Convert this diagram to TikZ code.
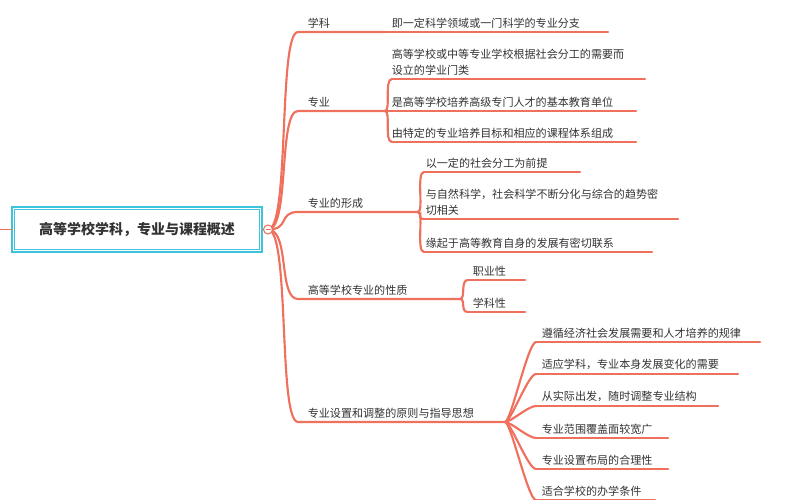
\documentclass[tikz,border=0pt]{standalone}
\usepackage{fontspec}
\setmainfont{Noto Sans CJK SC}
\definecolor{branch}{HTML}{F0705E}
\definecolor{rootline}{HTML}{3EC3DD}
\definecolor{ink}{HTML}{333333}
\tikzset{every picture/.style={line width=0.75pt}}
\tikzset{
  twig/.style={draw=branch,line width=1.6pt,line cap=round},
  leaf/.style={anchor=south west,inner sep=1pt,text=ink,font=\fontsize{8.3}{11.5}\selectfont,align=left},
}
% curve from a parent end to a child start
\newcommand{\bend}[2]{\draw[twig] (#1) .. controls ($(#1)+(6,0)$) and ($(#2)+(-8,0)$) .. (#2);}
\usetikzlibrary{calc}
\begin{document}
\begin{tikzpicture}[x=0.75pt,y=0.75pt,yscale=-1,xscale=1]
    \useasboundingbox (0,0) rectangle (786,500);

    %Root
    \draw[rootline,line width=1.2pt] (12,207) rectangle (262,252);
    \draw[rootline,line width=0.6pt] (14.5,209.5) rectangle (259.5,249.5);
    \node[text=ink,font=\fontsize{10.5}{12}\selectfont\bfseries] (root) at (137,229.5) {高等学校学科，专业与课程概述};
    \draw[twig,line width=1pt] (0,229.5) -- (12,229.5);
    \coordinate (hub) at (268,229.5);

    %Level one
    \foreach \nm/\y/\ex/\txt in {a/32/385/学科, b/111/385/专业, c/212/418/专业的形成, d/299/460/高等学校专业的性质, e/422/505/专业设置和调整的原则与指导思想}{
      \coordinate (\nm0) at (298,\y);
      \coordinate (\nm1) at (\ex,\y);
      \draw[twig] (hub) .. controls (290,229.5) and (278,\y) .. (\nm0) -- (\nm1);
      \node[leaf] (\nm t) at (306,\y-2) {\txt};
    }
    \draw[branch,fill=white,line width=0.8pt] (hub) circle (4.5);
    \draw[branch,line width=0.6pt] (265.5,229.5) -- (270.5,229.5);

    %Children
    \coordinate (a2) at (608,32);
    \draw[twig] (a1) -- (a2);
    \node[leaf] (at1) at (390,30) {即一定科学领域或一门科学的专业分支};

    \foreach \i/\y/\ex/\txt in {1/79/645/{高等学校或中等专业学校根据社会分工的需要而\\设立的学业门类}, 2/111/636/是高等学校培养高级专门人才的基本教育单位, 3/142/636/由特定的专业培养目标和相应的课程体系组成}{
      \coordinate (bs\i) at (392,\y);
      \coordinate (be\i) at (\ex,\y);
      \bend{b1}{bs\i}
      \draw[twig] (bs\i) -- (be\i);
      \node[leaf] (bt\i) at (390,\y-2) {\txt};
    }

    \foreach \i/\y/\ex/\txt in {1/172/580/以一定的社会分工为前提, 2/219/678/{与自然科学，社会科学不断分化与综合的趋势密\\切相关}, 3/252/652/缘起于高等教育自身的发展有密切联系}{
      \coordinate (cs\i) at (424,\y);
      \coordinate (ce\i) at (\ex,\y);
      \bend{c1}{cs\i}
      \draw[twig] (cs\i) -- (ce\i);
      \node[leaf] (ct\i) at (424,\y-2) {\txt};
    }

    \foreach \i/\y/\txt in {1/280/职业性, 2/312/学科性}{
      \coordinate (ds\i) at (468,\y);
      \coordinate (de\i) at (525,\y);
      \bend{d1}{ds\i}
      \draw[twig] (ds\i) -- (de\i);
      \node[leaf] (dt\i) at (471,\y-2) {\txt};
    }

    \foreach \i/\y/\ex/\txt in {1/342/760/遵循经济社会发展需要和人才培养的规律, 2/374/738/适应学科，专业本身发展变化的需要, 3/406/718/从实际出发，随时调整专业结构, 4/438/668/专业范围覆盖面较宽广, 5/469/668/专业设置布局的合理性, 6/500/655/适合学校的办学条件}{
      \coordinate (es\i) at (536,\y);
      \coordinate (ee\i) at (\ex,\y);
      \bend{e1}{es\i}
      \draw[twig] (es\i) -- (ee\i);
      \node[leaf] (et\i) at (540,\y-2) {\txt};
    }
\end{tikzpicture}
\end{document}
